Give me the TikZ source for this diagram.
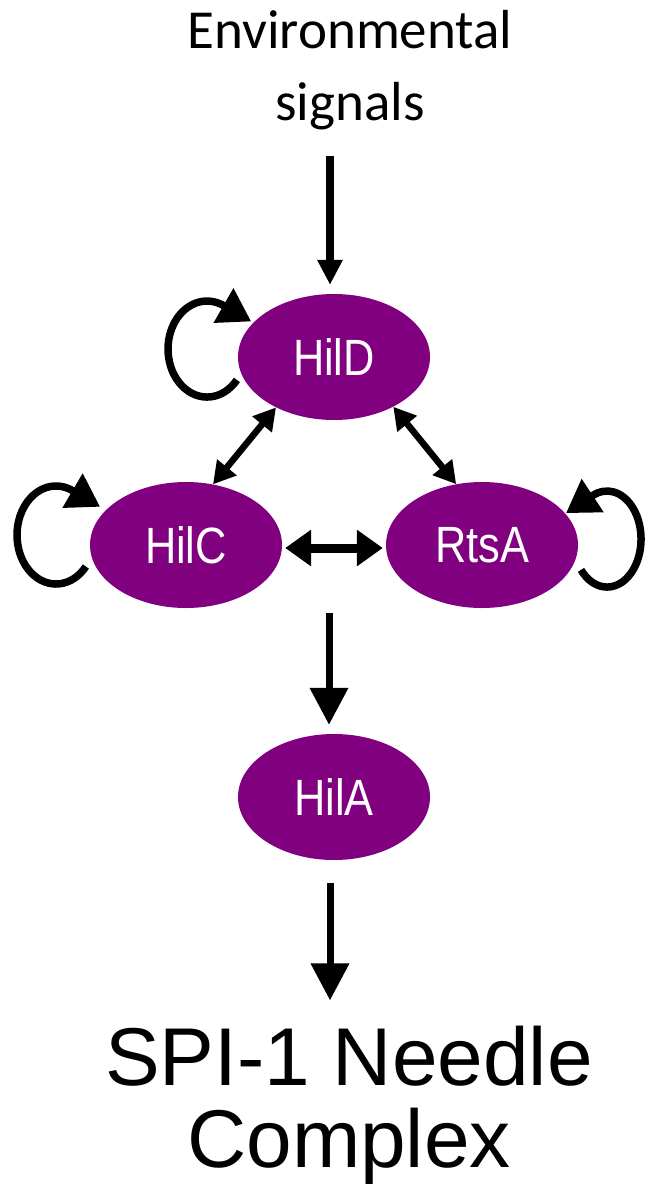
\documentclass[tikz,border=0pt]{standalone}
\usepackage{fontspec}
\usepackage{graphicx}
\usetikzlibrary{arrows.meta,shapes.geometric,calc,backgrounds}
\newfontfamily\calibrif{Carlito}
\newfontfamily\arialf{Liberation Sans}
\definecolor{nodepurple}{RGB}{128,0,128}
\newcommand\glabel[1]{\scalebox{0.85}[1]{#1}}
\tikzset{
  gene/.style={ellipse, fill=nodepurple, minimum width=192pt, minimum height=126pt,
    inner sep=0pt, text=white, font=\arialf\fontsize{51}{60}\selectfont},
  arrV/.style={line width=7.5pt, -{Triangle[length=25pt,width=24pt]}},
  arrBig/.style={line width=7pt, -{Triangle[length=37pt,width=37pt]}},
  arrD/.style={line width=6.5pt, {Triangle[length=22pt,width=24pt]}-{Triangle[length=22pt,width=24pt]}},
  arrH/.style={line width=9pt, {Triangle[length=26pt,width=35pt]}-{Triangle[length=26pt,width=35pt]}},
  selfloop/.style={line width=7.5pt, -{Triangle[length=32pt,width=38pt]}},
}
\begin{document}
\begin{tikzpicture}[x=1pt,y=-1pt]
\useasboundingbox (0,0) rectangle (645,1184);
% texts
\node[font=\calibrif\fontsize{55}{72}\selectfont, align=center, anchor=base, inner sep=0pt] (env) at (350,120) {Environmental\\signals};
\node[font=\arialf\fontsize{82}{82}\selectfont, align=center, anchor=base, inner sep=0pt] (spi) at (349,1167) {SPI-1 Needle\\Complex};
% genes
\node[gene] (hild) at (334,357) {\glabel{HilD}};
\node[gene] (hilc) at (186,545) {\glabel{HilC}};
\node[gene] (rtsa) at (482,545) {\glabel{RtsA}};
\node[gene] (hila) at (334,797) {\glabel{HilA}};
% self loops
\begin{scope}[on background layer]
\draw[selfloop] ($(hild.center)+(-97.1,22.9)$) arc[start angle=40,end angle=295,x radius=39,y radius=48] -- ++(27.7,15.9);
\draw[selfloop] ($(hilc.center)+(-100.1,21.5)$) arc[start angle=40,end angle=295,x radius=39,y radius=49] -- ++(27.6,16.2);
\draw[selfloop] ($(rtsa.center)+(99,24.9)$) arc[start angle=140,end angle=-115,x radius=34,y radius=48] -- ++(-26.7,17.6);
\end{scope}
% connectors
\draw[arrV] ($(env.south -| hild.north)+(-4,26)$) -- ($(hild.north)+(-4,-9)$);
\draw[arrD] (hild.221) -- (hilc.66);
\draw[arrD] (hild.320) -- (rtsa.113);
\draw[arrH] ($(hilc.east)+(3,3)$) -- ($(rtsa.west)+(-3,3)$);
\draw[arrBig] ($(hilc.south)!0.5!(rtsa.south)+(-5,5)$) -- ($(hila.north)+(-5,-9)$);
\draw[arrBig] ($(hila.south)+(-4,23)$) -- ($(spi.north -| hila.south)+(-4,-25)$);
\end{tikzpicture}
\end{document}
